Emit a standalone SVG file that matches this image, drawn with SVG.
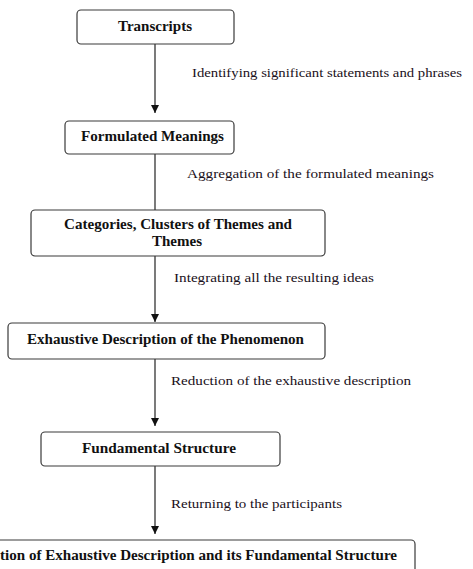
<svg xmlns="http://www.w3.org/2000/svg" width="473" height="569" viewBox="0 0 473 569">
<defs>
<style>
.box{fill:#fff;stroke:#3a3a3a;stroke-width:1.2}
.t{font-family:'Liberation Serif',serif;font-weight:bold;font-size:14px;fill:#111;text-anchor:middle}
.l{font-family:'Liberation Serif',serif;font-size:13.5px;fill:#1a1020}
.c{stroke:#222;stroke-width:1.2;fill:none}
</style>
<marker id="ah" viewBox="0 0 8 8" refX="8" refY="4" markerWidth="8" markerHeight="8" orient="auto" markerUnits="userSpaceOnUse">
<path d="M0,0 L8,4 L0,8 z" fill="#111"/>
</marker>
</defs>
<rect width="473" height="569" fill="#fff"/>
<g id="connectors">
<line class="c" x1="155" y1="44" x2="155" y2="113" marker-end="url(#ah)"/>
<line class="c" x1="155" y1="154" x2="155" y2="210"/>
<line class="c" x1="155" y1="256" x2="155" y2="322" marker-end="url(#ah)"/>
<line class="c" x1="155" y1="359" x2="155" y2="426" marker-end="url(#ah)"/>
<line class="c" x1="155" y1="466" x2="155" y2="534" marker-end="url(#ah)"/>
<text class="l" font-family="Liberation Serif, serif" x="192" y="77" textLength="270" lengthAdjust="spacingAndGlyphs">Identifying significant statements and phrases</text>
<text class="l" font-family="Liberation Serif, serif" x="187" y="178" textLength="247" lengthAdjust="spacingAndGlyphs">Aggregation of the formulated meanings</text>
<text class="l" font-family="Liberation Serif, serif" x="174" y="282" textLength="200" lengthAdjust="spacingAndGlyphs">Integrating all the resulting ideas</text>
<text class="l" font-family="Liberation Serif, serif" x="171" y="385" textLength="240" lengthAdjust="spacingAndGlyphs">Reduction of the exhaustive description</text>
<text class="l" font-family="Liberation Serif, serif" x="171" y="508" textLength="171" lengthAdjust="spacingAndGlyphs">Returning to the participants</text>
</g>
<g id="n1">
<rect class="box" x="77" y="10" width="157" height="34" rx="4"/>
<text class="t" font-family="Liberation Serif, serif" x="155" y="31" textLength="74" lengthAdjust="spacingAndGlyphs">Transcripts</text>
</g>
<g id="n2">
<rect class="box" x="65" y="121" width="169" height="33" rx="4"/>
<text class="t" font-family="Liberation Serif, serif" x="152.5" y="141" textLength="143" lengthAdjust="spacingAndGlyphs">Formulated Meanings</text>
</g>
<g id="n3">
<rect class="box" x="31" y="210" width="294" height="46" rx="4"/>
<text class="t" font-family="Liberation Serif, serif" x="178" y="229" textLength="228" lengthAdjust="spacingAndGlyphs">Categories, Clusters of Themes and</text>
<text class="t" font-family="Liberation Serif, serif" x="177" y="246" textLength="50" lengthAdjust="spacingAndGlyphs">Themes</text>
</g>
<g id="n4">
<rect class="box" x="8" y="323" width="317" height="36" rx="4"/>
<text class="t" font-family="Liberation Serif, serif" x="165.5" y="344" textLength="277" lengthAdjust="spacingAndGlyphs">Exhaustive Description of the Phenomenon</text>
</g>
<g id="n5">
<rect class="box" x="41" y="432" width="239" height="34" rx="4"/>
<text class="t" font-family="Liberation Serif, serif" x="159" y="453" textLength="154" lengthAdjust="spacingAndGlyphs">Fundamental Structure</text>
</g>
<g id="n6">
<rect class="box" x="-10" y="540" width="425" height="40" rx="4"/>
<text class="t" font-family="Liberation Serif, serif" x="198.5" y="560" textLength="397" lengthAdjust="spacingAndGlyphs">tion of Exhaustive Description and its Fundamental Structure</text>
</g>
</svg>
